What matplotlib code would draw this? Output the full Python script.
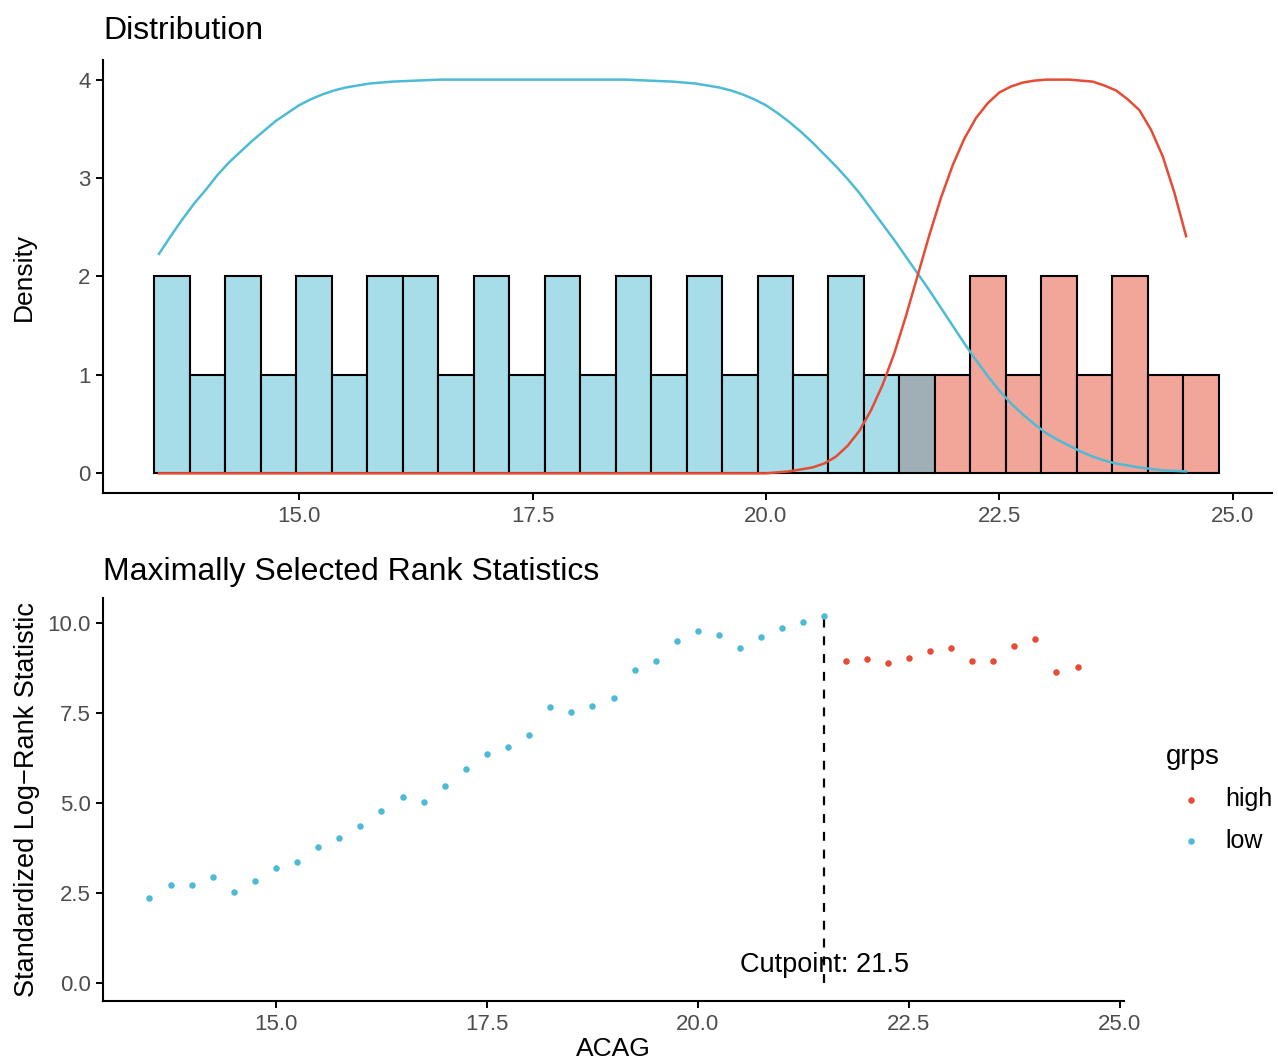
import matplotlib.pyplot as plt

plt.rcParams['font.family'] = ['Liberation Sans', 'DejaVu Sans']

blue = '#4DBBD5'
red = '#E64B35'

# histogram (Distribution panel)
bin_start = 13.45
bin_width = 0.38
bin_heights = [2, 1, 2, 1, 2, 1, 2, 2, 1, 2, 1, 2, 1, 2, 1, 2, 1, 2, 1, 2, 1,
               1,
               1, 2, 1, 2, 1, 2, 1, 1]
bin_groups = ['low'] * 21 + ['both'] + ['high'] * 8

# density curves
low_x = [13.5, 13.625, 13.75, 13.875, 14.0, 14.125, 14.25, 14.375, 14.5, 14.625,
         14.75, 14.875, 15.0, 15.125, 15.25, 15.375, 15.5, 15.625, 15.75, 16.0,
         16.25, 16.5, 17.0, 17.5, 18.0, 18.5, 18.75, 19.0, 19.25, 19.5,
         19.625, 19.75, 19.875, 20.0, 20.125, 20.25, 20.375, 20.5, 20.625, 20.75,
         20.875, 21.0, 21.125, 21.25, 21.375, 21.5, 21.625, 21.75, 21.875, 22.0,
         22.125, 22.25, 22.375, 22.5, 22.625, 22.75, 22.875, 23.0, 23.125, 23.25,
         23.375, 23.5, 23.625, 23.75, 23.875, 24.0, 24.25, 24.5]
low_y = [2.23, 2.41, 2.58, 2.74, 2.88, 3.03, 3.16, 3.27, 3.38, 3.48,
         3.58, 3.66, 3.74, 3.80, 3.85, 3.89, 3.92, 3.94, 3.96, 3.98,
         3.99, 4.0, 4.0, 4.0, 4.0, 4.0, 3.99, 3.98, 3.96, 3.92,
         3.89, 3.85, 3.80, 3.74, 3.66, 3.57, 3.47, 3.36, 3.24, 3.12,
         2.99, 2.85, 2.69, 2.53, 2.37, 2.2, 2.03, 1.86, 1.68, 1.5,
         1.32, 1.15, 0.99, 0.84, 0.71, 0.6, 0.5, 0.41, 0.34, 0.28,
         0.22, 0.17, 0.13, 0.10, 0.08, 0.06, 0.03, 0.02]
high_x = [13.5, 14.5, 15.5, 16.5, 17.5, 18.5, 19.5, 20.0, 20.25, 20.375,
          20.5, 20.625, 20.75, 20.875, 21.0, 21.125, 21.25, 21.375, 21.5, 21.625,
          21.75, 21.875, 22.0, 22.125, 22.25, 22.375, 22.5, 22.625, 22.75, 22.875,
          23.0, 23.25, 23.375, 23.5, 23.625, 23.75, 23.875, 24.0, 24.125, 24.25,
          24.375, 24.5]
high_y = [0, 0, 0, 0, 0, 0, 0, 0, 0.02, 0.04,
          0.06, 0.10, 0.17, 0.28, 0.43, 0.64, 0.90, 1.22, 1.6, 2.01,
          2.42, 2.80, 3.13, 3.40, 3.61, 3.76, 3.87, 3.93, 3.97, 3.99,
          4.0, 4.0, 3.99, 3.98, 3.94, 3.89, 3.80, 3.69, 3.49, 3.22,
          2.85, 2.41]

# maximally selected rank statistics
cut_x = [13.5, 13.75, 14.0, 14.25, 14.5, 14.75, 15.0, 15.25, 15.5, 15.75,
         16.0, 16.25, 16.5, 16.75, 17.0, 17.25, 17.5, 17.75, 18.0, 18.25,
         18.5, 18.75, 19.0, 19.25, 19.5, 19.75, 20.0, 20.25, 20.5, 20.75,
         21.0, 21.25, 21.5, 21.75, 22.0, 22.25, 22.5, 22.75, 23.0, 23.25,
         23.5, 23.75, 24.0, 24.25, 24.5]
stat = [2.36, 2.72, 2.71, 2.93, 2.52, 2.83, 3.19, 3.36, 3.78, 4.03,
        4.37, 4.78, 5.16, 5.03, 5.47, 5.95, 6.36, 6.56, 6.89, 7.67,
        7.53, 7.70, 7.92, 8.70, 8.95, 9.50, 9.78, 9.66, 9.31, 9.61,
        9.86, 10.03, 10.19, 8.94, 9.0, 8.88, 9.03, 9.24, 9.32, 8.94,
        8.95, 9.36, 9.57, 8.64, 8.78]
cutpoint = 21.5

fig = plt.figure(figsize=(12.78, 10.63), dpi=100)
ax1 = fig.add_axes([0.0806, 0.5362, 0.9147, 0.4074])
ax2 = fig.add_axes([0.0806, 0.0583, 0.7989, 0.3791])

fill = {'low': '#A6DDE9', 'both': '#A0AFB6', 'high': '#F2A599'}
lefts = [bin_start + i * bin_width for i in range(len(bin_heights))]
ax1.bar(lefts, bin_heights, width=bin_width, align='edge',
        color=[fill[g] for g in bin_groups], edgecolor='black', linewidth=1.5)
ax1.plot(low_x, low_y, color=blue, lw=1.8)
ax1.plot(high_x, high_y, color=red, lw=1.8)
ax1.set_xlim(12.9, 25.42)
ax1.set_ylim(-0.2, 4.2)
ax1.set_yticks([0, 1, 2, 3, 4])
ax1.set_xticks([15.0, 17.5, 20.0, 22.5, 25.0])
ax1.set_xticklabels(['15.0', '17.5', '20.0', '22.5', '25.0'])
ax1.set_ylabel('Density', fontsize=19, labelpad=30)
ax1.set_title('Distribution', loc='left', fontsize=23, pad=15)

low_mask = [x <= cutpoint for x in cut_x]
ax2.scatter([x for x, m in zip(cut_x, low_mask) if not m],
            [s for s, m in zip(stat, low_mask) if not m],
            s=22, color=red, label='high', zorder=3, linewidths=0)
ax2.scatter([x for x, m in zip(cut_x, low_mask) if m],
            [s for s, m in zip(stat, low_mask) if m],
            s=22, color=blue, label='low', zorder=3, linewidths=0)
ax2.vlines(cutpoint, 0, max(stat), colors='black', linestyles=(0, (4, 4)), lw=1.6)
ax2.text(cutpoint, 0.5, 'Cutpoint: 21.5', ha='center', va='center', fontsize=19.5)
ax2.set_xlim(12.95, 25.05)
ax2.set_ylim(-0.51, 10.7)
ax2.set_xticks([15.0, 17.5, 20.0, 22.5, 25.0])
ax2.set_xticklabels(['15.0', '17.5', '20.0', '22.5', '25.0'])
ax2.set_yticks([0, 2.5, 5.0, 7.5, 10.0])
ax2.set_yticklabels(['0.0', '2.5', '5.0', '7.5', '10.0'])
ax2.set_xlabel('ACAG', fontsize=19, labelpad=2)
ax2.set_ylabel('Standardized Log\u2212Rank Statistic', fontsize=19.5, labelpad=5)
ax2.set_title('Maximally Selected Rank Statistics', loc='left', fontsize=23, pad=13)

for ax in (ax1, ax2):
    for side in ('top', 'right'):
        ax.spines[side].set_visible(False)
    for side in ('left', 'bottom'):
        ax.spines[side].set_linewidth(1.5)
    ax.tick_params(length=5, width=1.4, labelsize=16, labelcolor='#4D4D4D', pad=4)

leg = fig.legend(*ax2.get_legend_handles_labels(), title='grps', frameon=False,
                 loc='center left', bbox_to_anchor=(0.912, 0.249),
                 borderaxespad=0, borderpad=0,
                 fontsize=18, title_fontsize=20, markerscale=1.0,
                 handlelength=2.0, handletextpad=0.4, labelspacing=0.7)
leg._legend_box.align = 'left'

fig.savefig('out.png', dpi=100)
